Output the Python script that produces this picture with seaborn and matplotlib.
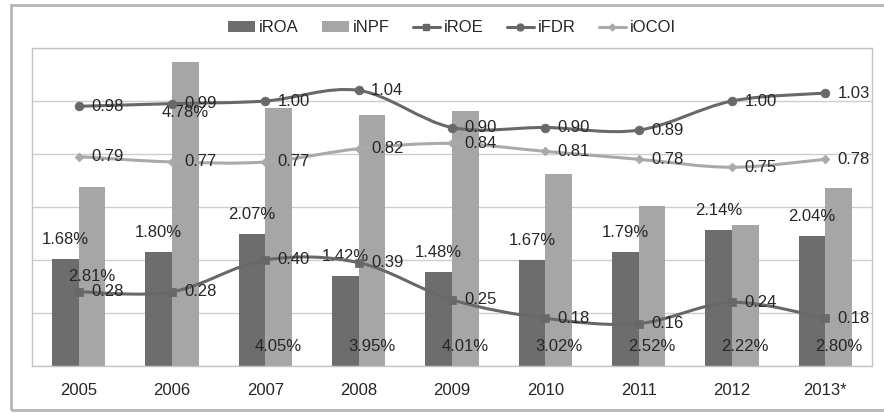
import numpy as np
import pandas as pd
import matplotlib
matplotlib.use("Agg")
import matplotlib.pyplot as plt
import seaborn as sns
from matplotlib.path import Path
from matplotlib.patches import PathPatch, Patch, Rectangle
from matplotlib.lines import Line2D

# ---------------- data ----------------
years = ["2005", "2006", "2007", "2008", "2009", "2010", "2011", "2012", "2013*"]
roa = [1.68, 1.80, 2.07, 1.42, 1.48, 1.67, 1.79, 2.14, 2.04]
npf = [2.81, 4.78, 4.05, 3.95, 4.01, 3.02, 2.52, 2.22, 2.80]
roe = [0.28, 0.28, 0.40, 0.39, 0.25, 0.18, 0.16, 0.24, 0.18]
fdr = [0.98, 0.99, 1.00, 1.04, 0.90, 0.90, 0.89, 1.00, 1.03]
ocoi = [0.79, 0.77, 0.77, 0.82, 0.84, 0.81, 0.78, 0.75, 0.78]
# where the iNPF data labels sit (primary-axis units), as in the source chart
npf_label_y = [1.40, 3.99, 0.30, 0.30, 0.30, 0.30, 0.30, 0.30, 0.30]

# ---------------- style ----------------
sns.set_theme(style="white")
plt.rcParams["font.family"] = ["Liberation Sans", "DejaVu Sans"]

DARK = "#6d6d6d"
LIGHT = "#a6a6a6"
LINE_DARK = "#686868"
LINE_LIGHT = "#a9a9a9"
TXT = "#262626"
FS = 12

fig = plt.figure(figsize=(8.84, 4.13), dpi=100)
ax = fig.add_axes([32 / 884, 47 / 413, 840 / 884, 318 / 413])

df = pd.DataFrame({
    "year": years * 2,
    "value": roa + npf,
    "series": ["iROA"] * len(years) + ["iNPF"] * len(years),
})
sns.barplot(data=df, x="year", y="value", hue="series", order=years,
            hue_order=["iROA", "iNPF"], palette=[DARK, LIGHT], saturation=1,
            width=0.57, gap=0, linewidth=0, legend=False, ax=ax, zorder=2)

ax.set_ylim(0, 5)
ax.set_xlim(-0.5, len(years) - 0.5)
ax.set_yticks(np.linspace(0, 5, 7))
ax.set_yticklabels([])
ax.yaxis.grid(True, color="#cdcdcd", linewidth=1.0, zorder=0)
ax.set_axisbelow(True)
ax.set_xlabel("")
ax.set_ylabel("")
ax.tick_params(axis="both", length=0)
ax.tick_params(axis="x", pad=12, labelsize=FS, labelcolor=TXT)
for s in ax.spines.values():
    s.set_color("#c4c4c4")
    s.set_linewidth(1.0)

# bar labels
roa_bars = ax.containers[0]
npf_bars = ax.containers[1]
for b, v in zip(roa_bars, roa):
    cx = b.get_x() + b.get_width() / 2
    ax.annotate(f"{v:.2f}%", (cx, v), xytext=(0, 14), textcoords="offset points",
                ha="center", va="center", fontsize=FS, color=TXT, zorder=5)
for b, v, ly in zip(npf_bars, npf, npf_label_y):
    cx = b.get_x() + b.get_width() / 2
    ax.annotate(f"{v:.2f}%", (cx, ly), ha="center", va="center",
                fontsize=FS, color=TXT, zorder=5)

# ---------------- lines on secondary axis ----------------
ax2 = ax.twinx()
ax2.set_ylim(0, 1.2)
ax2.set_yticks([])
for s in ax2.spines.values():
    s.set_visible(False)


def smooth_patch(xs, ys, color, lw):
    pts = np.column_stack([xs, ys]).astype(float)
    n = len(pts)
    verts = [tuple(pts[0])]
    codes = [Path.MOVETO]
    for i in range(n - 1):
        p0 = pts[i - 1] if i > 0 else pts[i]
        p1 = pts[i]
        p2 = pts[i + 1]
        p3 = pts[i + 2] if i + 2 < n else pts[i + 1]
        c1 = p1 + (p2 - p0) / 6.0
        c2 = p2 - (p3 - p1) / 6.0
        verts += [tuple(c1), tuple(c2), tuple(p2)]
        codes += [Path.CURVE4] * 3
    return PathPatch(Path(verts, codes), facecolor="none", edgecolor=color,
                     linewidth=lw, capstyle="round", joinstyle="round")


xs = np.arange(len(years))
line_specs = [
    ("iROE", roe, LINE_DARK, "s", 34),
    ("iFDR", fdr, LINE_DARK, "o", 40),
    ("iOCOI", ocoi, LINE_LIGHT, "D", 20),
]
for name, vals, col, mk, ms in line_specs:
    ax2.add_patch(smooth_patch(xs, vals, col, 2.2))
    sns.scatterplot(x=xs, y=vals, marker=mk, s=ms, color=col, edgecolor=col,
                    linewidth=0.5, ax=ax2, zorder=4, legend=False)
    for x, v in zip(xs, vals):
        ax2.annotate(f"{v:.2f}", (x, v), xytext=(9, 0), textcoords="offset points",
                     ha="left", va="center", fontsize=FS, color=TXT, zorder=6)

ax2.set_xlim(-0.5, len(years) - 0.5)

# ---------------- legend ----------------
handles = [
    Patch(facecolor=DARK, edgecolor="none", label="iROA"),
    Patch(facecolor=LIGHT, edgecolor="none", label="iNPF"),
    Line2D([], [], color=LINE_DARK, lw=2.2, marker="s", markersize=5, label="iROE"),
    Line2D([], [], color=LINE_DARK, lw=2.2, marker="o", markersize=5, label="iFDR"),
    Line2D([], [], color=LINE_LIGHT, lw=2.2, marker="D", markersize=3.5, label="iOCOI"),
]
fig.legend(handles=handles, loc="center", bbox_to_anchor=(452 / 884, 1 - 28 / 413),
           ncol=5, frameon=False, fontsize=FS, handlelength=1.6, handleheight=0.6,
           handletextpad=0.25, columnspacing=1.4, labelcolor=TXT)

# outer chart border
fig.patches.append(Rectangle((11, 3), 890, 405, transform=None, fill=False,
                             edgecolor="#b5b5b5", linewidth=2.0, figure=fig))

fig.savefig("out.png", dpi=100)
